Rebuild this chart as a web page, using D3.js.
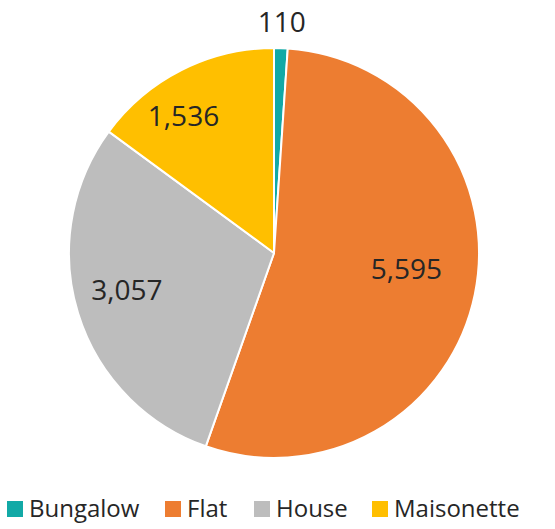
<!DOCTYPE html>
<html>
<head>
<meta charset="utf-8">
<script src="https://cdn.jsdelivr.net/npm/d3@7"></script>
<style>
  html, body { margin: 0; padding: 0; background: #fff; }
  svg { display: block; }
</style>
</head>
<body>
<svg id="chart" width="555" height="529"></svg>
<script>
// Dwelling types and their counts
const categories = ["Bungalow", "Flat", "House", "Maisonette"];
const values = [110, 5595, 3057, 1536];
const colors = ["#12A9A6", "#ED7D31", "#BDBDBD", "#FFBF00"];

const width = 555, height = 529;
const cx = 274, cy = 253, radius = 205;
const textColor = "#262626";
const fontFamily = "'Open Sans', 'Noto Sans', sans-serif";

const svg = d3.select("#chart");
const g = svg.append("g").attr("transform", `translate(${cx},${cy})`);

const pie = d3.pie().sort(null).value(d => d.value);
const data = categories.map((c, i) => ({ name: c, value: values[i], color: colors[i] }));
const arcs = pie(data);

const arc = d3.arc().innerRadius(0).outerRadius(radius);

g.selectAll("path.slice")
  .data(arcs)
  .join("path")
  .attr("class", "slice")
  .attr("d", arc)
  .attr("fill", d => d.data.color)
  .attr("stroke", "#fff")
  .attr("stroke-width", 2)
  .attr("stroke-linejoin", "round");

// Label placement: radial fraction and angular nudge per slice (best-fit style)
const labelRadius = [1.13, 0.65, 0.74, 0.80];
const labelNudge = [0, -0.083, 0.052, -0.116];
const fmt = d3.format(",");

g.selectAll("text.value")
  .data(arcs)
  .join("text")
  .attr("class", "value")
  .attr("x", (d, i) => {
    const a = (d.startAngle + d.endAngle) / 2 + labelNudge[i];
    return Math.sin(a) * radius * labelRadius[i];
  })
  .attr("y", (d, i) => {
    const a = (d.startAngle + d.endAngle) / 2 + labelNudge[i];
    return -Math.cos(a) * radius * labelRadius[i];
  })
  .attr("dy", "0.36em")
  .attr("text-anchor", "middle")
  .attr("font-family", fontFamily)
  .attr("font-size", 28)
  .attr("fill", textColor)
  .text(d => fmt(d.data.value));

// Legend along the bottom
const legend = svg.append("g").attr("class", "legend");
const sw = 16, swGap = 6, legendY = 517;
const legendX = [7, 165, 254, 372];
const items = legend.selectAll("g.item")
  .data(data)
  .join("g")
  .attr("class", "item")
  .attr("transform", (d, i) => `translate(${legendX[i]},0)`);

items.append("rect")
  .attr("width", sw).attr("height", sw)
  .attr("y", legendY - sw)
  .attr("fill", d => d.color);

items.append("text")
  .attr("x", sw + swGap)
  .attr("y", legendY)
  .attr("font-family", fontFamily)
  .attr("font-size", 24)
  .attr("fill", textColor)
  .text(d => d.name);
</script>
</body>
</html>
